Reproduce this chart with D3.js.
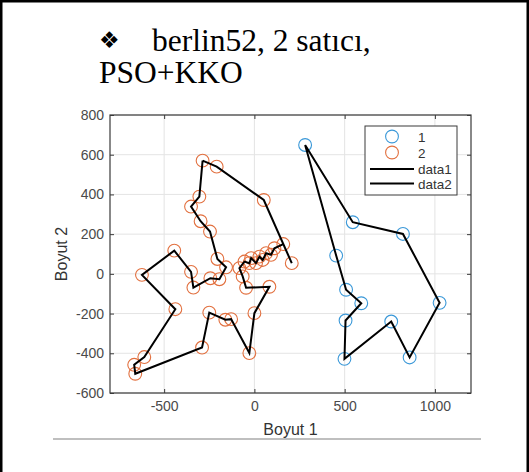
<!DOCTYPE html>
<html><head><meta charset="utf-8">
<script src="https://cdn.jsdelivr.net/npm/d3@7"></script>
<style>
html,body{margin:0;padding:0;background:#fff;}
svg{display:block;}
</style></head>
<body>
<script>
// ---- data ----
const titleLine1 = "berlin52, 2 satıcı,";
const titleLine2 = "PSO+KKO";
const xLabel = "Boyut 1";
const yLabel = "Boyut 2";
const xTicks = [-500, 0, 500, 1000];
const yTicks = [-600, -400, -200, 0, 200, 400, 600, 800];
const xDomain = [-800, 1200];
const yDomain = [-600, 800];
const legendLabels = ["1", "2", "data1", "data2"];

// salesman 1 (route order)
const route1X = [281, 545, 823, 1026, 860, 758, 499, 505, 592, 508, 453];
const route1Y = [649, 260, 201, -146, -421, -240, -428, -235, -148, -80, 92];

// salesman 2 (route order)
const route2X = [-287, -209, 52, 207, 160, 111, 92, 65, 46, 28, 9, -18, -28, -55, -83, -65, -46,
  83, 0, -28, -129, -161, -250, -290, -660, -666, -610, -438, -623, -444, -351, -338, -244, -194,
  -157, -205, -246, -298, -351, -305];
const route2Y = [570, 540, 372, 54, 150, 129, 96, 104, 70, 87, 54, 79, 54, 62, 29, -13, -70,
  -65, -198, -399, -228, -231, -195, -371, -503, -458, -419, -178, -5, 117, 10, -69, -22, -27,
  33, 75, 213, 265, 339, 389];

// ---- drawing ----
const W = 529, H = 472;
const svg = d3.select("body").append("svg").attr("width", W).attr("height", H);

// page frame
svg.append("rect").attr("x", 0).attr("y", 0).attr("width", 2.5).attr("height", H).attr("fill", "#000");
svg.append("rect").attr("x", 0).attr("y", 0).attr("width", W).attr("height", 2.5).attr("fill", "#000");
svg.append("rect").attr("x", W - 2.5).attr("y", 0).attr("width", 2.5).attr("height", H).attr("fill", "#000");

// title
svg.append("text").attr("x", 99).attr("y", 48).attr("font-family", "DejaVu Sans")
  .attr("font-size", 23).attr("fill", "#000").text("❖");
svg.append("text").attr("x", 152).attr("y", 50.5).attr("font-family", "Liberation Serif, Times New Roman, serif")
  .attr("font-size", 31.5).attr("fill", "#000").text(titleLine1);
svg.append("text").attr("x", 99).attr("y", 83).attr("font-family", "Liberation Serif, Times New Roman, serif")
  .attr("font-size", 31.5).attr("fill", "#000").text(titleLine2);

// separator line
svg.append("line").attr("x1", 53).attr("x2", 481).attr("y1", 439).attr("y2", 439)
  .attr("stroke", "#bfbfbf").attr("stroke-width", 2);

const L = 110, R = 471, T = 115, B = 393;
const x = d3.scaleLinear().domain(xDomain).range([L, R]);
const y = d3.scaleLinear().domain(yDomain).range([B, T]);

// axes background
svg.append("rect").attr("x", L).attr("y", T).attr("width", R - L).attr("height", B - T).attr("fill", "#fff");

// grid
const grid = svg.append("g");
grid.selectAll("line.gx").data(xTicks).join("line")
  .attr("x1", d => x(d)).attr("x2", d => x(d)).attr("y1", T).attr("y2", B)
  .attr("stroke", "#e4e4e4").attr("stroke-width", 1);
grid.selectAll("line.gy").data(yTicks).join("line")
  .attr("y1", d => y(d)).attr("y2", d => y(d)).attr("x1", L).attr("x2", R)
  .attr("stroke", "#e4e4e4").attr("stroke-width", 1);

// circles
const blue = "#3a98d8", orange = "#e2703f";
const pts1 = route1X.map((v, i) => [v, route1Y[i]]);
const pts2 = route2X.map((v, i) => [v, route2Y[i]]);
svg.append("g").selectAll("circle").data(pts1).join("circle")
  .attr("cx", d => x(d[0])).attr("cy", d => y(d[1])).attr("r", 6.4)
  .attr("fill", "none").attr("stroke", blue).attr("stroke-width", 1.1);
svg.append("g").selectAll("circle").data(pts2).join("circle")
  .attr("cx", d => x(d[0])).attr("cy", d => y(d[1])).attr("r", 6.4)
  .attr("fill", "none").attr("stroke", orange).attr("stroke-width", 1.1);

// routes
const line = d3.line().x(d => x(d[0])).y(d => y(d[1]));
[pts1, pts2].forEach(p => {
  svg.append("path").attr("d", line(p.concat([p[0]])))
    .attr("fill", "none").attr("stroke", "#000").attr("stroke-width", 2).attr("stroke-linejoin", "miter");
});

// axes
const axisColor = "#3a3a3a";
const fmt = d => String(d);
function styleAxis(g, labels) {
  g.select(".domain").remove();
  g.selectAll(".tick line").attr("stroke", axisColor).attr("stroke-width", 1);
  g.selectAll(".tick text").attr("fill", "#4a4a4a").attr("font-family", "Liberation Sans, Arial, sans-serif")
    .attr("font-size", 14);
  if (!labels) g.selectAll(".tick text").remove();
}
svg.append("g").attr("transform", `translate(0,${B})`)
  .call(d3.axisBottom(x).tickValues(xTicks).tickSize(-4).tickPadding(8).tickFormat(fmt))
  .call(g => styleAxis(g, true));
svg.append("g").attr("transform", `translate(0,${T})`)
  .call(d3.axisTop(x).tickValues(xTicks).tickSize(-4))
  .call(g => styleAxis(g, false));
svg.append("g").attr("transform", `translate(${L},0)`)
  .call(d3.axisLeft(y).tickValues(yTicks).tickSize(-4).tickPadding(6).tickFormat(fmt))
  .call(g => styleAxis(g, true));
svg.append("g").attr("transform", `translate(${R},0)`)
  .call(d3.axisRight(y).tickValues(yTicks).tickSize(-4))
  .call(g => styleAxis(g, false));

// box
svg.append("rect").attr("x", L).attr("y", T).attr("width", R - L).attr("height", B - T)
  .attr("fill", "none").attr("stroke", axisColor).attr("stroke-width", 1.2);

// axis labels
svg.append("text").attr("x", (L + R) / 2).attr("y", 435).attr("text-anchor", "middle")
  .attr("font-family", "Liberation Sans, Arial, sans-serif").attr("font-size", 16).attr("fill", "#333")
  .text(xLabel);
svg.append("text").attr("transform", `translate(67,${(T + B) / 2}) rotate(-90)`).attr("text-anchor", "middle")
  .attr("font-family", "Liberation Sans, Arial, sans-serif").attr("font-size", 16).attr("fill", "#333")
  .text(yLabel);

// legend
const lg = svg.append("g");
lg.append("rect").attr("x", 365).attr("y", 126).attr("width", 92).attr("height", 69)
  .attr("fill", "#fff").attr("stroke", "#3a3a3a").attr("stroke-width", 1);
const rows = [136.5, 152.5, 169, 183.5];
lg.append("circle").attr("cx", 392).attr("cy", rows[0]).attr("r", 6.4).attr("fill", "none").attr("stroke", blue).attr("stroke-width", 1.1);
lg.append("circle").attr("cx", 392).attr("cy", rows[1]).attr("r", 6.4).attr("fill", "none").attr("stroke", orange).attr("stroke-width", 1.1);
lg.append("line").attr("x1", 370).attr("x2", 414).attr("y1", rows[2]).attr("y2", rows[2]).attr("stroke", "#000").attr("stroke-width", 2);
lg.append("line").attr("x1", 370).attr("x2", 414).attr("y1", rows[3]).attr("y2", rows[3]).attr("stroke", "#000").attr("stroke-width", 2);
lg.selectAll("text").data(legendLabels).join("text")
  .attr("x", 418).attr("y", (d, i) => rows[i] + 5)
  .attr("font-family", "Liberation Sans, Arial, sans-serif").attr("font-size", 13.5).attr("fill", "#333")
  .text(d => d);
</script>
</body></html>
